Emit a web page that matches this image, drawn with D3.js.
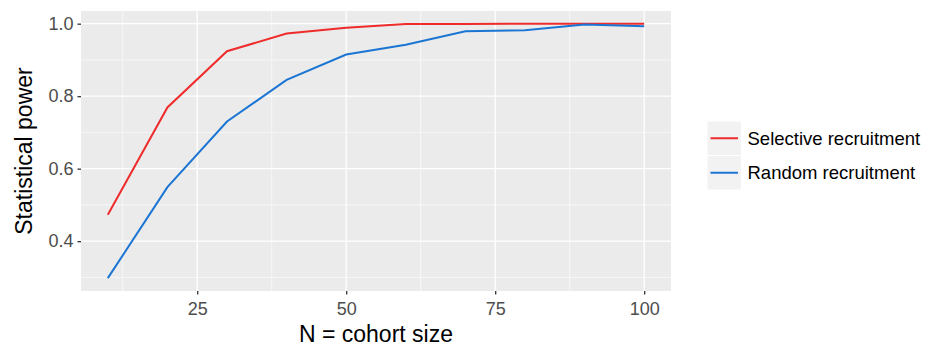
<!DOCTYPE html>
<html>
<head>
<meta charset="utf-8">
<script src="https://cdn.jsdelivr.net/npm/d3@7"></script>
<style>
  body { margin: 0; background: #fff; }
  svg text { font-family: "Liberation Sans", Arial, Helvetica, sans-serif; }
</style>
</head>
<body>
<div id="chart_container"></div>
<script>
// data
const cohort_sizes = [10, 20, 30, 40, 50, 60, 70, 80, 90, 100];
const selective_power = [0.473, 0.769, 0.924, 0.973, 0.989, 0.999, 0.999, 1.0, 1.0, 1.0];
const random_power = [0.298, 0.549, 0.730, 0.845, 0.915, 0.942, 0.979, 0.982, 0.998, 0.993];
const series_names = ["Selective recruitment", "Random recruitment"];
const series_colors = ["#ee2c2c", "#1b75d3"];
const x_ticks = [25, 50, 75, 100];
const x_minor = [12.5, 37.5, 62.5, 87.5];
const y_ticks = [0.4, 0.6, 0.8, 1.0];
const y_minor = [0.3, 0.5, 0.7, 0.9];

const width = 944, height = 355;
const panel = { left: 81, top: 11, right: 671, bottom: 291 };

const svg = d3.select("#chart_container")
    .append("svg")
    .attr("width", width)
    .attr("height", height);

// ggplot style expansion of 5%
const x = d3.scaleLinear()
    .domain([5.5, 104.5])
    .range([panel.left, panel.right]);
const y = d3.scaleLinear()
    .domain([0.2625, 1.035])
    .range([panel.bottom, panel.top]);

// panel background
svg.append("rect")
    .attr("x", panel.left)
    .attr("y", panel.top)
    .attr("width", panel.right - panel.left)
    .attr("height", panel.bottom - panel.top)
    .attr("fill", "#ebebeb");

// minor grid
const grid = svg.append("g");
grid.selectAll(".xminor").data(x_minor).enter().append("line")
    .attr("x1", d => x(d)).attr("x2", d => x(d))
    .attr("y1", panel.top).attr("y2", panel.bottom)
    .attr("stroke", "#fff").attr("stroke-width", 0.6);
grid.selectAll(".yminor").data(y_minor).enter().append("line")
    .attr("x1", panel.left).attr("x2", panel.right)
    .attr("y1", d => y(d)).attr("y2", d => y(d))
    .attr("stroke", "#fff").attr("stroke-width", 0.6);
// major grid
grid.selectAll(".xmajor").data(x_ticks).enter().append("line")
    .attr("x1", d => x(d)).attr("x2", d => x(d))
    .attr("y1", panel.top).attr("y2", panel.bottom)
    .attr("stroke", "#fff").attr("stroke-width", 1.3);
grid.selectAll(".ymajor").data(y_ticks).enter().append("line")
    .attr("x1", panel.left).attr("x2", panel.right)
    .attr("y1", d => y(d)).attr("y2", d => y(d))
    .attr("stroke", "#fff").attr("stroke-width", 1.3);

// X axis
const x_axis = svg.append("g")
    .attr("transform", `translate(0, ${panel.bottom})`)
    .call(d3.axisBottom(x).tickValues(x_ticks).tickSize(3.5).tickPadding(8).tickFormat(d3.format("d")));
// Y axis
const y_axis = svg.append("g")
    .attr("transform", `translate(${panel.left}, 0)`)
    .call(d3.axisLeft(y).tickValues(y_ticks).tickSize(3.5).tickPadding(4).tickFormat(d3.format(".1f")));

[x_axis, y_axis].forEach(function (ax) {
    ax.select(".domain").remove();
    ax.selectAll(".tick line").attr("stroke", "#333").attr("stroke-width", 1.3);
    ax.selectAll(".tick text")
        .attr("fill", "#4d4d4d")
        .style("font-size", "18px");
});

// lines
const series = [selective_power, random_power];
const line = d3.line()
    .x((d, i) => x(cohort_sizes[i]))
    .y(d => y(d));
svg.append("g").selectAll("path")
    .data(series)
    .enter()
    .append("path")
    .attr("d", d => line(d))
    .attr("fill", "none")
    .attr("stroke", (d, i) => series_colors[i])
    .attr("stroke-width", 2);

// axis titles
svg.append("text")
    .attr("x", (panel.left + panel.right) / 2)
    .attr("y", 342)
    .attr("text-anchor", "middle")
    .style("font-size", "23px")
    .attr("fill", "#000")
    .text("N = cohort size");
svg.append("text")
    .attr("transform", `translate(32, ${(panel.top + panel.bottom) / 2}) rotate(-90)`)
    .attr("text-anchor", "middle")
    .style("font-size", "23px")
    .attr("fill", "#000")
    .text("Statistical power");

// legend
const legend = svg.append("g").attr("transform", "translate(707, 121)");
const key_size = 34.5;
const items = legend.selectAll(".item")
    .data(series_names)
    .enter()
    .append("g")
    .attr("transform", (d, i) => `translate(0, ${i * key_size})`);
items.append("rect")
    .attr("width", key_size).attr("height", key_size)
    .attr("fill", "#f2f2f2")
    .attr("stroke", "#fff").attr("stroke-width", 1);
items.append("line")
    .attr("x1", 3.5).attr("x2", key_size - 3.5)
    .attr("y1", key_size / 2).attr("y2", key_size / 2)
    .attr("stroke", (d, i) => series_colors[i])
    .attr("stroke-width", 2);
items.append("text")
    .attr("x", key_size + 6)
    .attr("y", key_size / 2)
    .attr("dy", "0.36em")
    .style("font-size", "18.5px")
    .attr("fill", "#000")
    .text(d => d);
</script>
</body>
</html>
